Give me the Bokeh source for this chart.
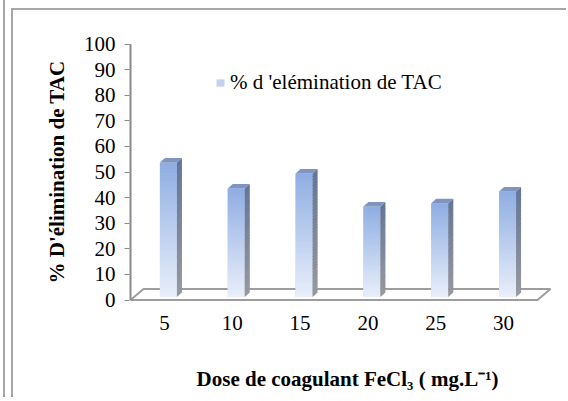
import numpy as np
from bokeh.plotting import figure
from bokeh.models import Range1d, FixedTicker, Legend, LegendItem, ColumnDataSource
from bokeh.embed import file_html
from bokeh.resources import INLINE

# ---- data ----
doses = [5, 10, 15, 20, 25, 30]
removal = [52.5, 42.4, 48.2, 35.4, 36.6, 41.2]
y_ticks = [0, 10, 20, 30, 40, 50, 60, 70, 80, 90, 100]
series_name = "% d 'elémination de TAC"
x_title = "Dose de coagulant FeCl\u2083 ( mg.L\u207b\u00b9)"
y_title = "% D'élimination de TAC"

FONT = "Liberation Serif"

# ---- geometry (pixels) ----
W, H = 555, 389
FRAME_L, FRAME_B, FRAME_T = 113, 98, 32
cat_px = 67.83
step = doses[1] - doses[0]
ux = step / cat_px          # data units per px (x)
uy = 1 / 2.56               # data units per px (y)
floor_left = doses[0] - step / 2
floor_right = doses[-1] + step / 2
x0 = floor_left - 4 * ux
x1 = x0 + (W - FRAME_L) * ux
y0 = -1.5 * uy
y1 = y0 + (H - FRAME_B - FRAME_T) * uy

p = figure(width=W, height=H, x_range=Range1d(x0, x1), y_range=Range1d(y0, y1),
           output_backend="svg", toolbar_location=None,
           min_border_left=FRAME_L, min_border_right=0, min_border_top=FRAME_T,
           min_border_bottom=FRAME_B)
p.styles = {"margin-left": "11px",
            "margin-top": "8px",
            "border-left": "2px solid #a6a6a6",
            "border-top": "2px solid #a6a6a6",
            "box-shadow": ("-6px -8px 0 0 #ffffff, -6px 0 0 0 #ffffff, "
                           "-8px -8px 0 0 #a6a6a6, -8px 0 0 0 #a6a6a6")}
p.xgrid.visible = False
p.ygrid.visible = False
p.outline_line_color = None
p.background_fill_color = "white"
p.border_fill_color = "white"

# floor
fdx, fdy = 13 * ux, 11 * uy
p.patch(x=[floor_left, floor_right, floor_right + fdx, floor_left + fdx],
        y=[0, 0, fdy, fdy], fill_color="white", line_color="#9d9d9d", line_width=2)
# y axis line
p.segment(x0=[floor_left], y0=[0], x1=[floor_left], y1=[max(y_ticks)],
          line_color="#8a8a8a", line_width=2)

# bars
off_l, off_r = 4.5 * ux, 12.5 * ux
base = 3 * uy
ddx, ddy = 5 * ux, 4.5 * uy

src = ColumnDataSource(dict(left=[d - off_l for d in doses], right=[d + off_r for d in doses],
                            bottom=[base] * len(doses), top=[v + base for v in removal]))
front = p.quad(left="left", right="right", bottom="bottom", top="top", source=src,
               fill_color="#c2d2ee", line_color=None)

def lerp(c1, c2, t):
    return "#%02x%02x%02x" % tuple(int(round(a + (b - a) * t)) for a, b in zip(c1, c2))

top_col = (143, 173, 226)
bot_col = (233, 239, 250)
side_top = (98, 116, 152)
side_bot = (150, 152, 156)
N = 40
ql, qr, qb, qt, qc = [], [], [], [], []
sx, sy, sc = [], [], []
for d, v in zip(doses, removal):
    L, R = d - off_l, d + off_r
    for i in range(N):
        b = base + v * i / N
        t = base + v * (i + 1) / N + (0.25 if i < N - 1 else 0)
        frac = (i + 0.5) / N
        ql.append(L); qr.append(R); qb.append(b); qt.append(t)
        qc.append(lerp(bot_col, top_col, frac))
        sx.append([R, R + ddx, R + ddx, R])
        sy.append([b, b + ddy, t + ddy, t])
        sc.append(lerp(side_bot, side_top, frac))
p.quad(left=ql, right=qr, bottom=qb, top=qt, fill_color=qc, line_color=None)
p.patches(xs=sx, ys=sy, fill_color=sc, line_color=None)
tx = [[d - off_l, d + off_r, d + off_r + ddx, d - off_l + ddx] for d in doses]
ty = [[v + base, v + base, v + base + ddy, v + base + ddy] for v in removal]
p.patches(xs=tx, ys=ty, fill_color="#7f95c0", line_color=None)

# axes
ya = p.yaxis[0]
ya.ticker = FixedTicker(ticks=y_ticks)
ya.axis_line_color = None
ya.major_tick_in = 3
ya.major_tick_out = 2
ya.major_tick_line_color = "#8a8a8a"
ya.major_tick_line_width = 1
ya.minor_tick_line_color = None
ya.major_label_standoff = 9
ya.major_label_text_font = FONT
ya.major_label_text_font_style = "normal"
ya.major_label_text_font_size = "21px"
ya.major_label_text_color = "black"
ya.axis_label = y_title
ya.axis_label_text_font = FONT
ya.axis_label_text_font_size = "21px"
ya.axis_label_text_font_style = "bold"
ya.axis_label_text_color = "black"
ya.axis_label_standoff = 12

xa = p.xaxis[0]
xa.ticker = FixedTicker(ticks=doses)
xa.axis_line_color = None
xa.major_tick_line_color = None
xa.minor_tick_line_color = None
xa.major_tick_in = 0
xa.major_tick_out = 0
xa.major_label_standoff = 14
xa.major_label_text_font = FONT
xa.major_label_text_font_size = "21px"
xa.major_label_text_color = "black"
xa.axis_label = x_title
xa.axis_label_text_font = FONT
xa.axis_label_text_font_size = "21px"
xa.axis_label_text_font_style = "bold"
xa.axis_label_text_color = "black"
xa.axis_label_standoff = 34

legend = Legend(items=[LegendItem(label=series_name, renderers=[front])],
                location=(89, 206), glyph_width=10, glyph_height=9, label_height=24,
                label_standoff=5, padding=0, margin=0, spacing=0,
                border_line_color=None, background_fill_alpha=0,
                label_text_font=FONT, label_text_font_size="21px",
                label_text_color="black")
p.add_layout(legend)

open("out.html", "w").write(file_html(p, INLINE))
